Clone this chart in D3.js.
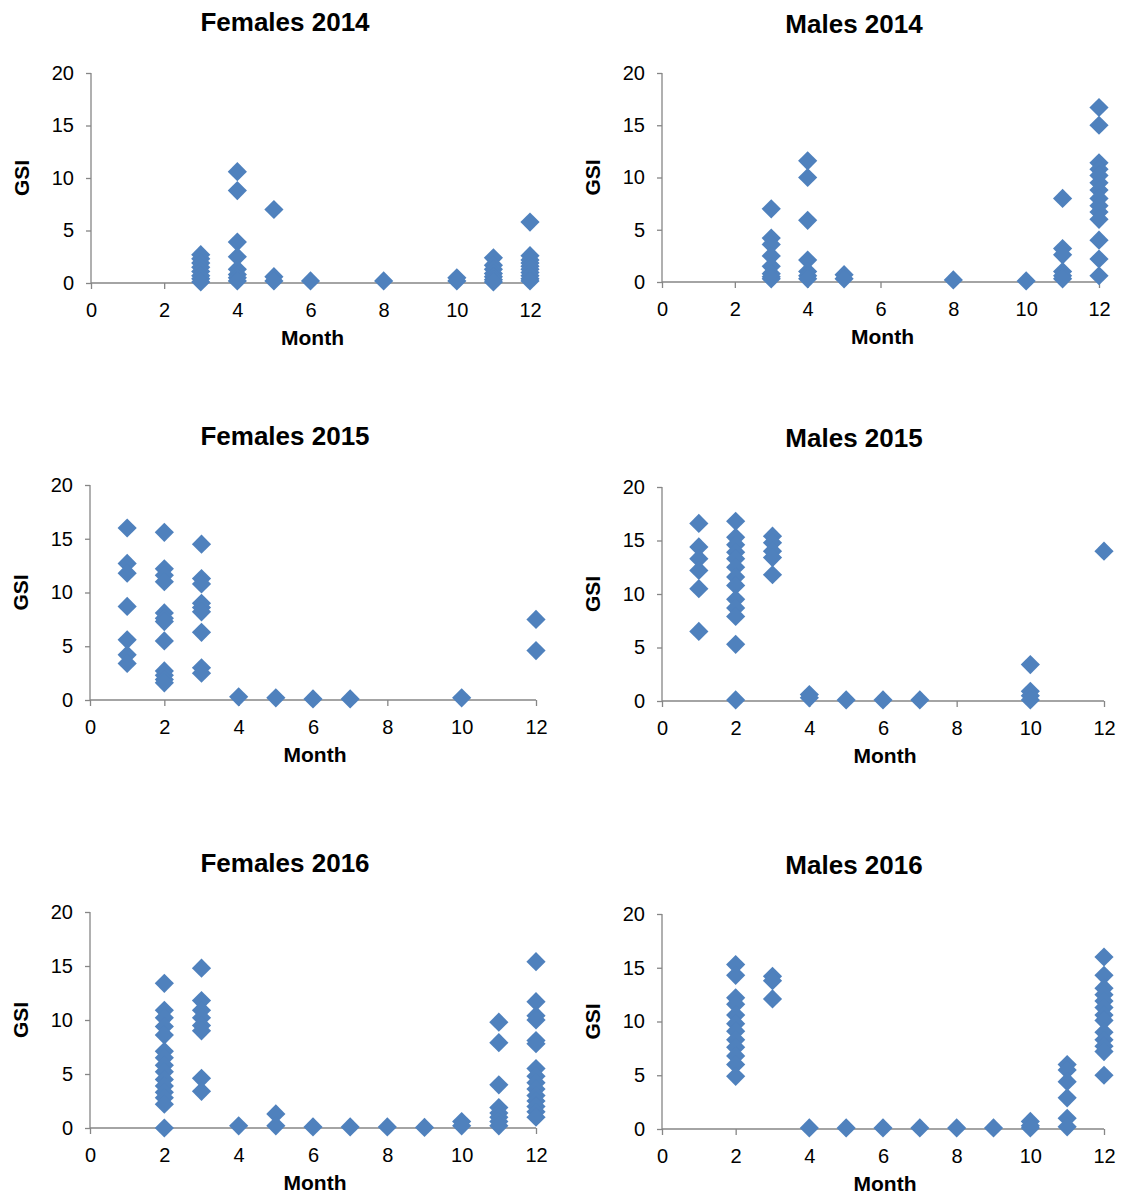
<!DOCTYPE html>
<html>
<head>
<meta charset="utf-8">
<script src="https://cdn.jsdelivr.net/npm/d3@7"></script>
<style>
  html, body { margin: 0; padding: 0; background: #fff; }
  svg { display: block; font-family: Arial, "Liberation Sans", sans-serif; }
</style>
</head>
<body>
<svg id="chart" width="1123" height="1198"></svg>
<script>
// GSI readings per sampling month: [month, [gsi values...]]
const females2014 = [
  [3, [2.7, 2.3, 1.9, 1.5, 1.1, 0.7, 0.4, 0.1]],
  [4, [10.6, 8.8, 3.9, 2.5, 1.3, 0.8, 0.5, 0.2]],
  [5, [7.0, 0.6, 0.2]],
  [6, [0.2]],
  [8, [0.2]],
  [10, [0.5, 0.2]],
  [11, [2.4, 1.7, 1.3, 0.9, 0.6, 0.3, 0.1]],
  [12, [5.8, 2.6, 2.2, 1.9, 1.6, 1.3, 1.0, 0.7, 0.4, 0.2]]
];
const males2014 = [
  [3, [7.0, 4.2, 3.6, 2.5, 1.5, 0.8, 0.5, 0.3]],
  [4, [11.6, 10.0, 5.9, 2.1, 1.0, 0.6, 0.3]],
  [5, [0.7, 0.3]],
  [8, [0.2]],
  [10, [0.1]],
  [11, [8.0, 3.2, 2.6, 1.0, 0.6, 0.3]],
  [12, [16.7, 15.0, 11.4, 10.8, 10.2, 9.5, 8.8, 8.0, 7.3, 6.7, 6.0, 4.0, 2.2, 0.6]]
];
const females2015 = [
  [1, [16.0, 12.7, 11.8, 8.7, 5.6, 4.2, 3.4]],
  [2, [15.6, 12.2, 11.6, 11.0, 8.1, 7.6, 7.3, 5.5, 2.7, 2.3, 1.9, 1.6]],
  [3, [14.5, 11.3, 10.8, 9.0, 8.6, 8.2, 6.3, 3.0, 2.5]],
  [4, [0.3]],
  [5, [0.2]],
  [6, [0.1]],
  [7, [0.1]],
  [10, [0.2]],
  [12, [7.5, 4.6]]
];
const males2015 = [
  [1, [16.6, 14.4, 13.3, 12.2, 10.5, 6.5]],
  [2, [16.8, 15.3, 14.6, 13.9, 13.3, 12.5, 11.6, 10.8, 9.5, 8.7, 7.9, 5.3, 0.1]],
  [3, [15.4, 14.8, 14.0, 13.4, 11.8]],
  [4, [0.6, 0.3]],
  [5, [0.1]],
  [6, [0.1]],
  [7, [0.1]],
  [10, [3.4, 0.9, 0.5, 0.1]],
  [12, [14.0]]
];
const females2016 = [
  [2, [13.4, 10.9, 10.2, 9.4, 8.6, 7.1, 6.5, 5.8, 5.2, 4.5, 3.9, 3.3, 2.8, 2.2, 0]],
  [3, [14.8, 11.8, 10.9, 10.2, 9.5, 9.0, 4.6, 3.4]],
  [4, [0.2]],
  [5, [1.3, 0.2]],
  [6, [0.1]],
  [7, [0.1]],
  [8, [0.1]],
  [9, [0.05]],
  [10, [0.6, 0.2]],
  [11, [9.8, 7.9, 4.0, 1.9, 1.4, 1.0, 0.6, 0.2]],
  [12, [15.4, 11.7, 10.4, 10.0, 8.1, 7.8, 5.5, 4.8, 4.2, 3.6, 3.0, 2.5, 2.0, 1.5, 1.0]]
];
const males2016 = [
  [2, [15.3, 14.3, 12.2, 11.6, 10.6, 9.8, 9.1, 8.3, 7.6, 6.8, 6.0, 4.9]],
  [3, [14.2, 13.8, 12.1]],
  [4, [0.1]],
  [5, [0.1]],
  [6, [0.1]],
  [7, [0.1]],
  [8, [0.1]],
  [9, [0.1]],
  [10, [0.7, 0.3, 0.1]],
  [11, [6.0, 5.5, 4.4, 2.9, 1.0, 0.2]],
  [12, [16.0, 14.3, 13.1, 12.5, 11.9, 11.3, 10.6, 10.1, 9.0, 8.3, 7.7, 7.2, 5.0]]
];

const panelTitles = ["Females 2014", "Males 2014", "Females 2015", "Males 2015", "Females 2016", "Males 2016"];
const panelData = [females2014, males2014, females2015, males2015, females2016, males2016];
const xTicks = [0, 2, 4, 6, 8, 10, 12];
const yTicks = [0, 5, 10, 15, 20];
const xTitle = "Month";
const yTitle = "GSI";

// Plot frames: left/right = pixel of month 0 / month 12, top/bottom = pixel of GSI 20 / 0
const frames = [
  { left: 91,  right: 530,  top: 73,  bottom: 283,  titleY: 31 },
  { left: 662, right: 1099, top: 73,  bottom: 282,  titleY: 33 },
  { left: 90,  right: 536,  top: 485, bottom: 700,  titleY: 445 },
  { left: 662, right: 1104, top: 487, bottom: 701,  titleY: 447 },
  { left: 90,  right: 536,  top: 912, bottom: 1128, titleY: 872 },
  { left: 662, right: 1104, top: 914, bottom: 1129, titleY: 874 }
];
const titleCenters = [285, 854, 285, 854, 285, 854];

const markerColor = "#4F81BD";
const axisColor = "#868686";

// Square diamond (rotated square), as in spreadsheet-style markers
const squareDiamond = {
  draw(context, size) {
    const r = Math.sqrt(size / 2);
    context.moveTo(0, -r);
    context.lineTo(r, 0);
    context.lineTo(0, r);
    context.lineTo(-r, 0);
    context.closePath();
  }
};
const markerPath = d3.symbol().type(squareDiamond).size(2 * 9.6 * 9.6)();

const svg = d3.select("#chart");

panelData.forEach((series, i) => {
  const f = frames[i];
  const x = d3.scaleLinear().domain([0, 12]).range([f.left, f.right]);
  const y = d3.scaleLinear().domain([0, 20]).range([f.bottom, f.top]);
  const g = svg.append("g");

  // Title
  g.append("text")
    .attr("x", titleCenters[i])
    .attr("y", f.titleY)
    .attr("text-anchor", "middle")
    .attr("font-size", 26)
    .attr("font-weight", "bold")
    .attr("fill", "#000")
    .text(panelTitles[i]);

  // Y axis
  const yAxis = g.append("g")
    .attr("transform", `translate(${f.left},0)`)
    .call(d3.axisLeft(y).tickValues(yTicks).tickSize(5).tickPadding(12));
  // X axis at GSI = 0
  const xAxis = g.append("g")
    .attr("transform", `translate(0,${y(0)})`)
    .call(d3.axisBottom(x).tickValues(xTicks).tickSize(6).tickPadding(14));

  [yAxis, xAxis].forEach(ax => {
    ax.select(".domain").attr("stroke", axisColor).attr("stroke-width", 1.3);
    ax.selectAll(".tick line").attr("stroke", axisColor).attr("stroke-width", 1.3);
    ax.selectAll(".tick text")
      .attr("font-size", 20)
      .attr("font-family", "Arial, 'Liberation Sans', sans-serif")
      .attr("fill", "#000");
  });
  // axis lines span exactly the plotted range
  yAxis.select(".domain").attr("d", `M0,${f.top}V${f.bottom}`);
  xAxis.select(".domain").attr("d", `M${f.left},0H${f.right}`);

  // Axis titles
  g.append("text")
    .attr("x", (f.left + f.right) / 2 + 2)
    .attr("y", f.bottom + 62)
    .attr("text-anchor", "middle")
    .attr("font-size", 21)
    .attr("font-weight", "bold")
    .text(xTitle);
  g.append("text")
    .attr("transform", `translate(${f.left - 62},${(f.top + f.bottom) / 2}) rotate(-90)`)
    .attr("text-anchor", "middle")
    .attr("font-size", 21)
    .attr("font-weight", "bold")
    .text(yTitle);

  // Points
  const points = series.flatMap(([m, vals]) => vals.map(v => ({ month: m, gsi: v })));
  g.append("g").selectAll("path")
    .data(points)
    .join("path")
    .attr("d", markerPath)
    .attr("transform", d => `translate(${x(d.month)},${y(d.gsi)})`)
    .attr("fill", markerColor);
});
</script>
</body>
</html>
